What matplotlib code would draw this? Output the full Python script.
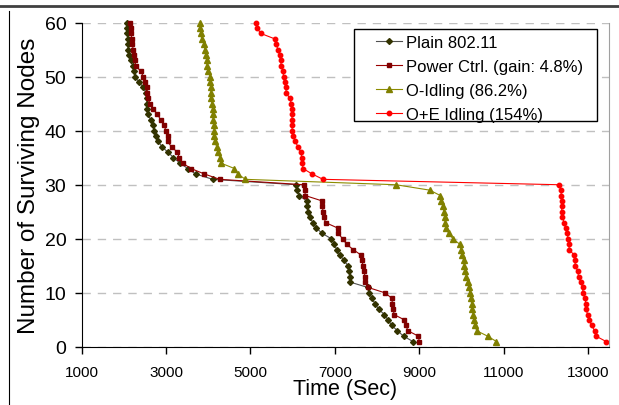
import matplotlib.pyplot as plt
from matplotlib.lines import Line2D
from matplotlib.patches import Rectangle

plt.rcParams['font.family'] = ['Liberation Sans', 'DejaVu Sans']

# surviving nodes (y) shared by every series
nodes = [60, 59, 58, 57, 56, 55, 54, 53, 52, 51,
         50, 49, 48, 47, 46, 45, 44, 43, 42, 41,
         40, 39, 38, 37, 36, 35, 34, 33, 32, 31,
         30, 29, 28, 27, 26, 25, 24, 23, 22, 21,
         20, 19, 18, 17, 16, 15, 14, 13, 12, 11,
         10, 9, 8, 7, 6, 5, 4, 3, 2, 1]

plain_t = [2070, 2075, 2080, 2090, 2095, 2100, 2130, 2160, 2210, 2240,
           2255, 2360, 2460, 2525, 2550, 2550, 2555, 2560, 2640, 2700,
           2715, 2770, 2820, 2900, 3050, 3175, 3335, 3510, 3700, 4105,
           6090, 6110, 6150, 6340, 6345, 6360, 6400, 6480, 6560, 6700,
           6920, 6990, 7040, 7120, 7220, 7310, 7340, 7350, 7360, 7780,
           7820, 7880, 7950, 8040, 8170, 8260, 8350, 8480, 8630, 8850]

power_t = [2150, 2160, 2170, 2185, 2200, 2220, 2240, 2260, 2280, 2400,
           2460, 2500, 2545, 2555, 2580, 2615, 2700, 2795, 2875, 2955,
           2995, 3035, 3035, 3130, 3270, 3310, 3390, 3590, 3905, 4270,
           6270, 6285, 6300, 6700, 6705, 6720, 6740, 6780, 7065, 7080,
           7185, 7280, 7435, 7620, 7635, 7675, 7700, 7710, 7720, 7790,
           8190, 8350, 8365, 8390, 8400, 8650, 8685, 8730, 8980, 9000]

oidle_t = [3810, 3815, 3825, 3840, 3905, 3920, 3940, 3960, 3975, 3990,
           4040, 4050, 4060, 4065, 4075, 4085, 4100, 4110, 4120, 4130,
           4140, 4145, 4155, 4200, 4240, 4270, 4300, 4620, 4700, 4880,
           8450, 9250, 9500, 9510, 9560, 9590, 9600, 9620, 9625, 9700,
           9800, 9960, 9990, 10020, 10050, 10070, 10090, 10120, 10160, 10170,
           10200, 10220, 10240, 10260, 10280, 10300, 10320, 10360, 10620, 10830]

oeidle_t = [5136, 5160, 5240, 5570, 5610, 5650, 5690, 5715, 5730, 5770,
            5785, 5810, 5835, 5850, 5930, 5970, 5985, 5985, 5985, 5985,
            5990, 6010, 6065, 6125, 6190, 6220, 6230, 6245, 6460, 6720,
            12320, 12355, 12370, 12372, 12375, 12380, 12395, 12430, 12470, 12500,
            12535, 12550, 12555, 12670, 12690, 12700, 12760, 12775, 12830, 12870,
            12885, 12930, 12950, 12955, 12990, 13030, 13085, 13155, 13190, 13430]

W, H = 619, 406
fig = plt.figure(figsize=(W / 100, H / 100), dpi=100)
ax = fig.add_axes([0.132, 0.143, 0.852, 0.799])

ax.plot(plain_t, nodes, '-', color='#505050', lw=0.8, marker='D', ms=3,
        mfc='#333300', mec='#333300', label='Plain 802.11', clip_on=False)
ax.plot(power_t, nodes, '-', color='#990000', lw=0.8, marker='s', ms=3.2,
        mfc='#800000', mec='#800000', label='Power Ctrl. (gain: 4.8%)', clip_on=False)
ax.plot(oidle_t, nodes, '-', color='#8c8c00', lw=0.8, marker='^', ms=4.2,
        mfc='#808000', mec='#808000', label='O-Idling (86.2%)', clip_on=False)
ax.plot(oeidle_t, nodes, '-', color='#ff0000', lw=0.8, marker='o', ms=3.2,
        mfc='#ff0000', mec='#ff0000', label='O+E Idling (154%)', clip_on=False)

ax.set_xlim(1000, 13500)
ax.set_ylim(0, 60)
ax.set_xticks([1000, 3000, 5000, 7000, 9000, 11000, 13000])
ax.set_yticks([0, 10, 20, 30, 40, 50, 60])
ax.tick_params(axis='x', labelsize=11, direction='out', length=5, width=1, pad=8)
ax.tick_params(axis='y', labelsize=14, direction='out', length=5, width=1, pad=6)
ax.yaxis.grid(True, linestyle=(0, (6, 5)), color='#c0c0c0', lw=1)
ax.set_axisbelow(True)

ax.spines['top'].set_visible(False)
ax.spines['right'].set_color('#a0a0a0')

ax.set_xlabel('Time (Sec)', fontsize=15.5, labelpad=-1)
ax.set_ylabel('Number of Surviving Nodes', fontsize=17.5, labelpad=3)

# legend box drawn by hand, entries placed inside it
box = Rectangle((354 / W, 1 - 122 / H), 243 / W, 92 / H,
                transform=fig.transFigure, facecolor='white',
                edgecolor='black', lw=1, zorder=4)
fig.add_artist(box)
handles, labels = ax.get_legend_handles_labels()
leg = fig.legend(handles, labels, loc='upper left',
                 bbox_to_anchor=(376 / W, 1 - 35.5 / H),
                 bbox_transform=fig.transFigure, fontsize=12, frameon=False,
                 borderaxespad=0, borderpad=0, handlelength=1.56,
                 handletextpad=0.25, labelspacing=0.55)
leg.set_zorder(5)

# frame pieces of the surrounding figure
fig.add_artist(Line2D([0, 1], [0.983, 0.983], transform=fig.transFigure,
                      color='#404040', lw=2))
fig.add_artist(Line2D([0.014, 0.014], [0, 0.97], transform=fig.transFigure,
                      color='black', lw=0.8))

fig.savefig('out.png', dpi=100)
